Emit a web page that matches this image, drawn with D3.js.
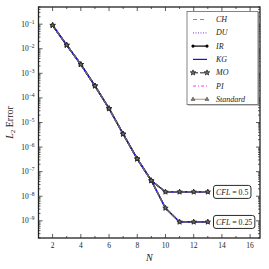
<!DOCTYPE html>
<html>
<head>
<meta charset="utf-8">
<script src="https://cdn.jsdelivr.net/npm/d3@7"></script>
<style>
  body { margin: 0; background: #fff; }
  svg text { font-family: "Liberation Serif", "DejaVu Serif", serif; fill: #222; }
</style>
</head>
<body>
<div id="chart"></div>
<script>
// data
var nVals = [2, 3, 4, 5, 6, 7, 8, 9, 10, 11, 12, 13];
var errCfl05 = [0.09, 0.014, 2.3e-3, 3.1e-4, 3.7e-5, 3.4e-6, 3.3e-7, 4.3e-8, 1.5e-8, 1.5e-8, 1.5e-8, 1.5e-8];
var errCfl025 = [0.09, 0.014, 2.3e-3, 3.1e-4, 3.7e-5, 3.4e-6, 3.3e-7, 4.3e-8, 3.3e-9, 9e-10, 9e-10, 9e-10];
var methods = ['CH', 'DU', 'IR', 'KG', 'MO', 'PI', 'Standard'];
var xTicks = [2, 4, 6, 8, 10, 12, 14, 16];
var yTicks = [-1, -2, -3, -4, -5, -6, -7, -8, -9];
var cflLabels = ['CFL = 0.5', 'CFL = 0.25'];

// line styles per method
var styles = {
  CH: {color: '#4fb84f', width: 1.2, dash: '4,3', marker: null},
  DU: {color: '#9b5fd6', width: 1.2, dash: '1,1.5', marker: null},
  IR: {color: '#000', width: 1.2, dash: null, marker: 'circle'},
  KG: {color: '#1010e8', width: 1.2, dash: null, marker: null},
  MO: {color: '#666', width: 1.6, dash: '5,2', marker: 'star'},
  PI: {color: '#ff3df0', width: 1.2, dash: '3,2,1,2', marker: null},
  Standard: {color: '#c9a27e', width: 1.2, dash: null, marker: 'triangle'}
};
// stacking order in the plot
var drawOrder = ['Standard', 'CH', 'DU', 'IR', 'PI', 'KG', 'MO'];

var W = 269, H = 269;
var margin = {left: 38.5, top: 7, right: 9, bottom: 31};

var svg = d3.select('#chart').append('svg')
  .attr('width', W).attr('height', H);

var x = d3.scaleLinear().domain([1, 16.7]).range([margin.left, W - margin.right]);
var y = d3.scaleLog().domain([2e-10, 0.5]).range([H - margin.bottom, margin.top]);

var x0 = x.range()[0], x1 = x.range()[1];
var y0 = y.range()[0], y1 = y.range()[1];

// ticks on all four sides, pointing inward
var tk = svg.append('g').attr('stroke', '#333').attr('stroke-width', 0.8);
d3.range(2, 17).forEach(function(v){
  var len = v % 2 === 0 ? 4 : 2;
  tk.append('line').attr('x1', x(v)).attr('x2', x(v)).attr('y1', y0).attr('y2', y0 - len);
  tk.append('line').attr('x1', x(v)).attr('x2', x(v)).attr('y1', y1).attr('y2', y1 + len);
});
for (var e = -10; e <= -1; e++) {
  for (var m = 1; m <= 9; m++) {
    var v = m * Math.pow(10, e);
    if (v < 2e-10 || v > 0.5) continue;
    var len = m === 1 ? 4 : 2;
    tk.append('line').attr('y1', y(v)).attr('y2', y(v)).attr('x1', x0).attr('x2', x0 + len);
    tk.append('line').attr('y1', y(v)).attr('y2', y(v)).attr('x1', x1).attr('x2', x1 - len);
  }
}

// frame
svg.append('rect')
  .attr('x', x0).attr('y', y1)
  .attr('width', x1 - x0).attr('height', y0 - y1)
  .attr('fill', 'none').attr('stroke', '#222').attr('stroke-width', 1.3);

// tick labels
svg.selectAll('.xl').data(xTicks).enter().append('text')
  .attr('x', function(d){ return x(d); })
  .attr('y', y0 + 10)
  .attr('text-anchor', 'middle')
  .attr('font-size', 7.5)
  .text(function(d){ return d; });

var yl = svg.selectAll('.yl').data(yTicks).enter().append('text')
  .attr('x', x0 - 4)
  .attr('y', function(d){ return y(Math.pow(10, d)) + 2.5; })
  .attr('text-anchor', 'end')
  .attr('font-size', 7.5);
yl.append('tspan').text('10');
yl.append('tspan').attr('dy', -3).attr('font-size', 5.5).text(function(d){ return '\u2212' + (-d); });

// axis labels
svg.append('text')
  .attr('x', (x0 + x1) / 2).attr('y', H - 8)
  .attr('text-anchor', 'middle').attr('font-size', 10).attr('font-style', 'italic')
  .text('N');

var ylab = svg.append('text')
  .attr('transform', 'translate(13,' + ((y0 + y1) / 2) + ') rotate(-90)')
  .attr('text-anchor', 'middle').attr('font-size', 10);
ylab.append('tspan').attr('font-style', 'italic').text('L');
ylab.append('tspan').attr('font-size', 7).attr('dy', 2).text('2');
ylab.append('tspan').attr('dy', -2).text(' Error');

// series
var line = d3.line()
  .x(function(d){ return x(d[0]); })
  .y(function(d){ return y(d[1]); });

function drawMarker(g, kind, px, py) {
  if (kind === 'circle') {
    g.append('circle').attr('cx', px).attr('cy', py).attr('r', 1.6)
      .attr('fill', '#000');
  } else if (kind === 'star') {
    g.append('path').attr('d', d3.symbol().type(d3.symbolStar).size(9)())
      .attr('transform', 'translate(' + px + ',' + py + ')')
      .attr('fill', '#777').attr('stroke', '#222').attr('stroke-width', 0.8);
  } else if (kind === 'triangle') {
    g.append('path').attr('d', d3.symbol().type(d3.symbolTriangle).size(7)())
      .attr('transform', 'translate(' + px + ',' + py + ')')
      .attr('fill', '#777').attr('stroke', '#444').attr('stroke-width', 0.5);
  }
}

var plotG = svg.append('g');
[errCfl05, errCfl025].forEach(function(errs){
  var pts = nVals.map(function(n, i){ return [n, errs[i]]; });
  drawOrder.forEach(function(name){
    var s = styles[name];
    plotG.append('path').datum(pts)
      .attr('d', line)
      .attr('fill', 'none')
      .attr('stroke', s.color)
      .attr('stroke-width', s.width)
      .attr('stroke-dasharray', s.dash);
  });
});
// markers on top
[errCfl05, errCfl025].forEach(function(errs){
  ['IR', 'Standard', 'MO'].forEach(function(name){
    nVals.forEach(function(n, i){
      drawMarker(plotG, styles[name].marker, x(n), y(errs[i]));
    });
  });
});

// CFL annotations
[[errCfl05, cflLabels[0]], [errCfl025, cflLabels[1]]].forEach(function(a){
  var ay = y(a[0][a[0].length - 1]);
  var g = svg.append('g');
  var t = g.append('text')
    .attr('x', 216).attr('y', ay + 2.7)
    .attr('font-size', 7.8);
  var parts = a[1].split(' = ');
  t.append('tspan').attr('font-style', 'italic').text(parts[0]);
  t.append('tspan').text(' = ' + parts[1]);
  var bb = t.node().getBBox();
  g.insert('rect', 'text')
    .attr('x', bb.x - 2.5).attr('y', ay - 6.5)
    .attr('width', bb.width + 5).attr('height', 13)
    .attr('rx', 2.5)
    .attr('fill', '#fff').attr('stroke', '#111').attr('stroke-width', 0.9);
});

// legend
var lg = svg.append('g');
var lx = 187, ly = 11.5, lw = 71, lh = 93;
lg.append('rect').attr('x', lx + 1).attr('y', ly + 1).attr('width', lw).attr('height', lh)
  .attr('fill', '#999');
lg.append('rect').attr('x', lx).attr('y', ly).attr('width', lw).attr('height', lh)
  .attr('fill', '#fff').attr('stroke', '#777').attr('stroke-width', 0.9);
methods.forEach(function(name, i){
  var s = styles[name];
  var ry = ly + 8 + i * 13.3;
  lg.append('line').attr('x1', lx + 6).attr('x2', lx + 20).attr('y1', ry).attr('y2', ry)
    .attr('stroke', s.color).attr('stroke-width', s.width).attr('stroke-dasharray', s.dash);
  if (s.marker) {
    drawMarker(lg, s.marker, lx + 6, ry);
    drawMarker(lg, s.marker, lx + 20, ry);
  }
  lg.append('text').attr('x', lx + 29).attr('y', ry + 2.5)
    .attr('font-size', 8).attr('font-style', 'italic')
    .text(name);
});
</script>
</body>
</html>
